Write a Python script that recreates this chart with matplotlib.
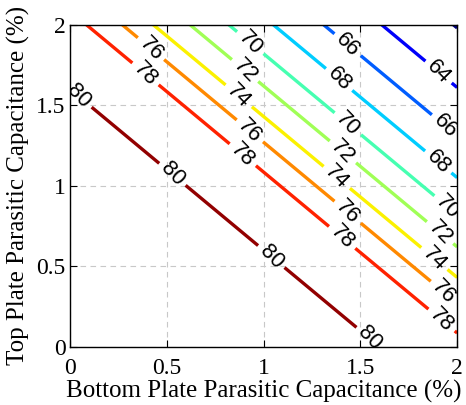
import numpy as np
import matplotlib
matplotlib.use("Agg")
import matplotlib.pyplot as plt

# contour levels and where each crosses along s = bottom + top (%)
levels = [62, 64, 66, 68, 70, 72, 74, 76, 78, 80]
knot_sum = [0.0, 1.60, 2.085, 2.27, 2.43, 2.62, 2.82, 3.05, 3.31, 3.61, 3.98, 4.0]
knot_val = [81.0, 80, 78, 76, 74, 72, 70, 68, 66, 64, 62, 61.9]

x_ticks = [0, 0.5, 1, 1.5, 2]
y_ticks = [0, 0.5, 1, 1.5, 2]
x_tick_labels = ["0", "0.5", "1", "1.5", "2"]
y_tick_labels = ["0", "0.5", "1", "1.5", "2"]

xv = np.linspace(0, 2, 401)
yv = np.linspace(0, 2, 401)
X, Y = np.meshgrid(xv, yv)
Z = np.interp(X + Y, knot_sum, knot_val)

fig = plt.figure(figsize=(4.66, 4.05), dpi=100)
ax = fig.add_axes([0.150, 0.144, 0.831, 0.795])

cs = ax.contour(X, Y, Z, levels=levels, cmap="jet", vmin=62, vmax=80.3,
                linewidths=2.4)

label_pos = [
    (0.93, 1.886), (1.43, 1.377), (1.95, 0.868),
    (0.894, 1.70), (1.41, 1.21), (1.91, 0.706),
    (0.863, 1.545), (1.38, 1.054), (1.876, 0.538),
    (0.413, 1.843), (0.92, 1.327), (1.41, 0.80), (1.94, 0.35),
    (0.377, 1.675), (0.879, 1.172), (1.395, 0.663), (1.92, 0.166),
    (0.04, 1.55), (0.527, 1.067), (1.034, 0.551), (1.55, 0.054),
    (1.38, 1.645), (1.897, 1.14),
    (1.42, 1.855), (1.928, 1.359),
    (1.90, 1.70),
]
labels = ax.clabel(cs, manual=label_pos, inline=True,
                   fmt="%d", colors="black", inline_spacing=3,
                   fontsize=16)
for t in labels:
    t.set_fontfamily("Liberation Sans")
    t.set_rotation(t.get_rotation() - 6)
    t.set_clip_on(True)

ax.set_xlim(0, 2)
ax.set_ylim(0, 2)
ax.set_xticks(x_ticks)
ax.set_xticklabels(x_tick_labels)
ax.set_yticks(y_ticks)
ax.set_yticklabels(y_tick_labels)
ax.grid(True, color="#c8c8c8", linestyle=(0, (5, 4)), linewidth=0.8)
ax.set_axisbelow(True)
ax.tick_params(direction="in", top=True, right=True, length=5, width=0.8,
               labelsize=17)
for lab in ax.get_xticklabels() + ax.get_yticklabels():
    lab.set_fontfamily("Liberation Serif")
ax.tick_params(axis="x", pad=8)
ax.tick_params(axis="y", pad=3)

ax.set_xlabel("Bottom Plate Parasitic Capacitance (%)", fontsize=18,
              family="Liberation Serif", va="baseline")
ax.xaxis.set_label_coords(0.5, -0.159)
ax.set_ylabel("Top Plate Parasitic Capacitance (%)", fontsize=18,
              family="Liberation Serif", va="baseline")
ax.yaxis.set_label_coords(-0.117, 0.5)
for s in ax.spines.values():
    s.set_linewidth(1.0)

fig.savefig("out.png", dpi=100)
